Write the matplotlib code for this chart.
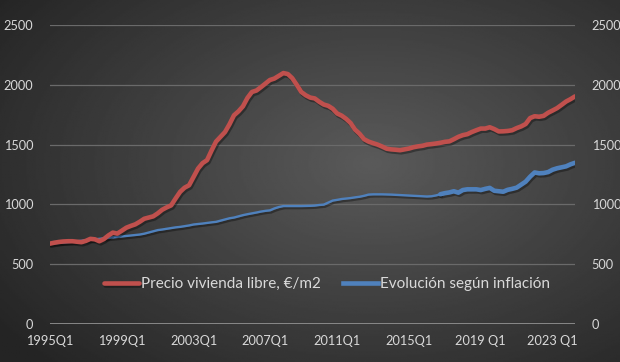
import matplotlib.pyplot as plt
import matplotlib.patheffects as pe
import numpy as np

# quarterly data 1995Q1 .. 2024Q2
precio = [672, 680, 686, 690, 692, 692, 688, 684,
          695, 712, 708, 692, 710, 740, 764, 756,
          780, 805, 820, 833, 855, 880, 890, 900,
          925, 955, 975, 992, 1050, 1105, 1140, 1160,
          1230, 1300, 1345, 1370, 1450, 1525, 1565, 1605,
          1670, 1745, 1778, 1820, 1890, 1940, 1952, 1980,
          2010, 2040, 2052, 2075, 2098, 2090, 2055, 2000,
          1940, 1912, 1893, 1886, 1858, 1835, 1824, 1800,
          1760, 1742, 1715, 1680, 1625, 1590, 1545, 1525,
          1512, 1500, 1484, 1466, 1460, 1457, 1453, 1460,
          1467, 1478, 1485, 1490, 1500, 1504, 1509, 1515,
          1523, 1527, 1545, 1565, 1579, 1587, 1605, 1620,
          1634, 1634, 1645, 1630, 1610, 1611, 1614, 1620,
          1638, 1652, 1672, 1722, 1737, 1733, 1740, 1766,
          1785, 1805, 1832, 1860, 1880, 1903]

inflacion = [672, 675, 678, 681, 684, 688, 692, 696,
             700, 704, 708, 712, 716, 720, 724, 728,
             732, 736, 740, 744, 748, 755, 765, 775,
             785, 790, 796, 802, 808, 812, 818, 824,
             832, 836, 840, 845, 850, 854, 864, 874,
             884, 890, 900, 910, 918, 925, 932, 940,
             946, 950, 966, 978, 986, 986, 986, 986,
             986, 987, 988, 990, 995, 998, 1015, 1032,
             1038, 1045, 1049, 1053, 1059, 1064, 1072, 1082,
             1084, 1084, 1084, 1083, 1082, 1080, 1078, 1076,
             1074, 1072, 1070, 1068, 1066, 1068, 1075, 1085,
             1094, 1100, 1110, 1098, 1120, 1126, 1126, 1126,
             1120, 1130, 1138, 1114, 1110, 1106, 1122, 1130,
             1140, 1165, 1190, 1232, 1267, 1260, 1262, 1270,
             1290, 1302, 1310, 1318, 1335, 1348]

tick_labels = ['1995Q1', '1999Q1', '2003Q1', '2007Q1', '2011Q1',
               '2015Q1', '2019 Q1', '2023 Q1']

plt.rcParams['font.family'] = ['Lato', 'DejaVu Sans']
txt = '#d9d9d9'
red = '#c0504d'
blue = '#4f81bd'

fig = plt.figure(figsize=(6.2, 3.62), dpi=100)

# radial gradient background
bg = fig.add_axes([0, 0, 1, 1], zorder=-10)
gx, gy = np.meshgrid(np.linspace(0, 1, 400), np.linspace(0, 1, 240))
r = np.sqrt(((gx - 0.6) / 0.75) ** 2 + ((gy - 0.45) / 0.8) ** 2)
r = np.clip(r, 0, 1)
light, dark = 0x5a / 255, 0x24 / 255
bg.imshow(light + (dark - light) * r, cmap='gray', vmin=0, vmax=1,
          extent=[0, 1, 0, 1], aspect='auto')
bg.axis('off')

ax = fig.add_axes([50 / 620, 1 - 324 / 362, 525 / 620, 299 / 362])
ax.patch.set_alpha(0)
x = np.arange(len(precio))
shadow = [pe.SimpleLineShadow(offset=(1, -1.5), alpha=0.35), pe.Normal()]

ax.plot(x, precio, color=red, lw=3.3, solid_capstyle='round',
        path_effects=shadow, label='Precio vivienda libre, €/m2', zorder=3)
k = 87
ax.plot(x[:k + 1], inflacion[:k + 1], color=blue, lw=1.7,
        path_effects=shadow, zorder=2)
ax.plot(x[k:], inflacion[k:], color=blue, lw=3.3, solid_capstyle='round',
        path_effects=shadow, zorder=2)
ax.plot([], [], color=blue, lw=3.3, label='Evolución según inflación')

ax.set_xlim(0, len(precio) - 1)
ax.set_ylim(0, 2500)
ax.set_yticks(range(0, 2501, 500))
ax.set_xticks(range(0, len(precio), 16))
ax.set_xticklabels(tick_labels)
ax.grid(axis='y', color='#6a6a6a', lw=0.9)
ax.set_axisbelow(True)
for s in ax.spines.values():
    s.set_visible(False)
ax.axhline(0, color='#8f8f8f', lw=2, zorder=1)
ax.tick_params(axis='both', length=0, colors=txt, labelsize=9.2)
ax.tick_params(axis='y', pad=12)
ax.tick_params(axis='x', pad=8)

ax2 = ax.twinx()
ax2.set_ylim(0, 2500)
ax2.set_yticks(range(0, 2501, 500))
for s in ax2.spines.values():
    s.set_visible(False)
ax2.tick_params(axis='y', length=0, colors=txt, labelsize=9.2, pad=12)

leg = ax.legend(handles=ax.get_lines()[:1] + ax.get_lines()[3:4],
                loc='center', bbox_to_anchor=(327 / 620, 1 - 284 / 362),
                bbox_transform=fig.transFigure, ncol=2, frameon=False,
                fontsize=11, handlelength=2.3, handletextpad=0.15,
                columnspacing=1.4)
for t in leg.get_texts():
    t.set_color(txt)

fig.savefig('out.png', dpi=100)
